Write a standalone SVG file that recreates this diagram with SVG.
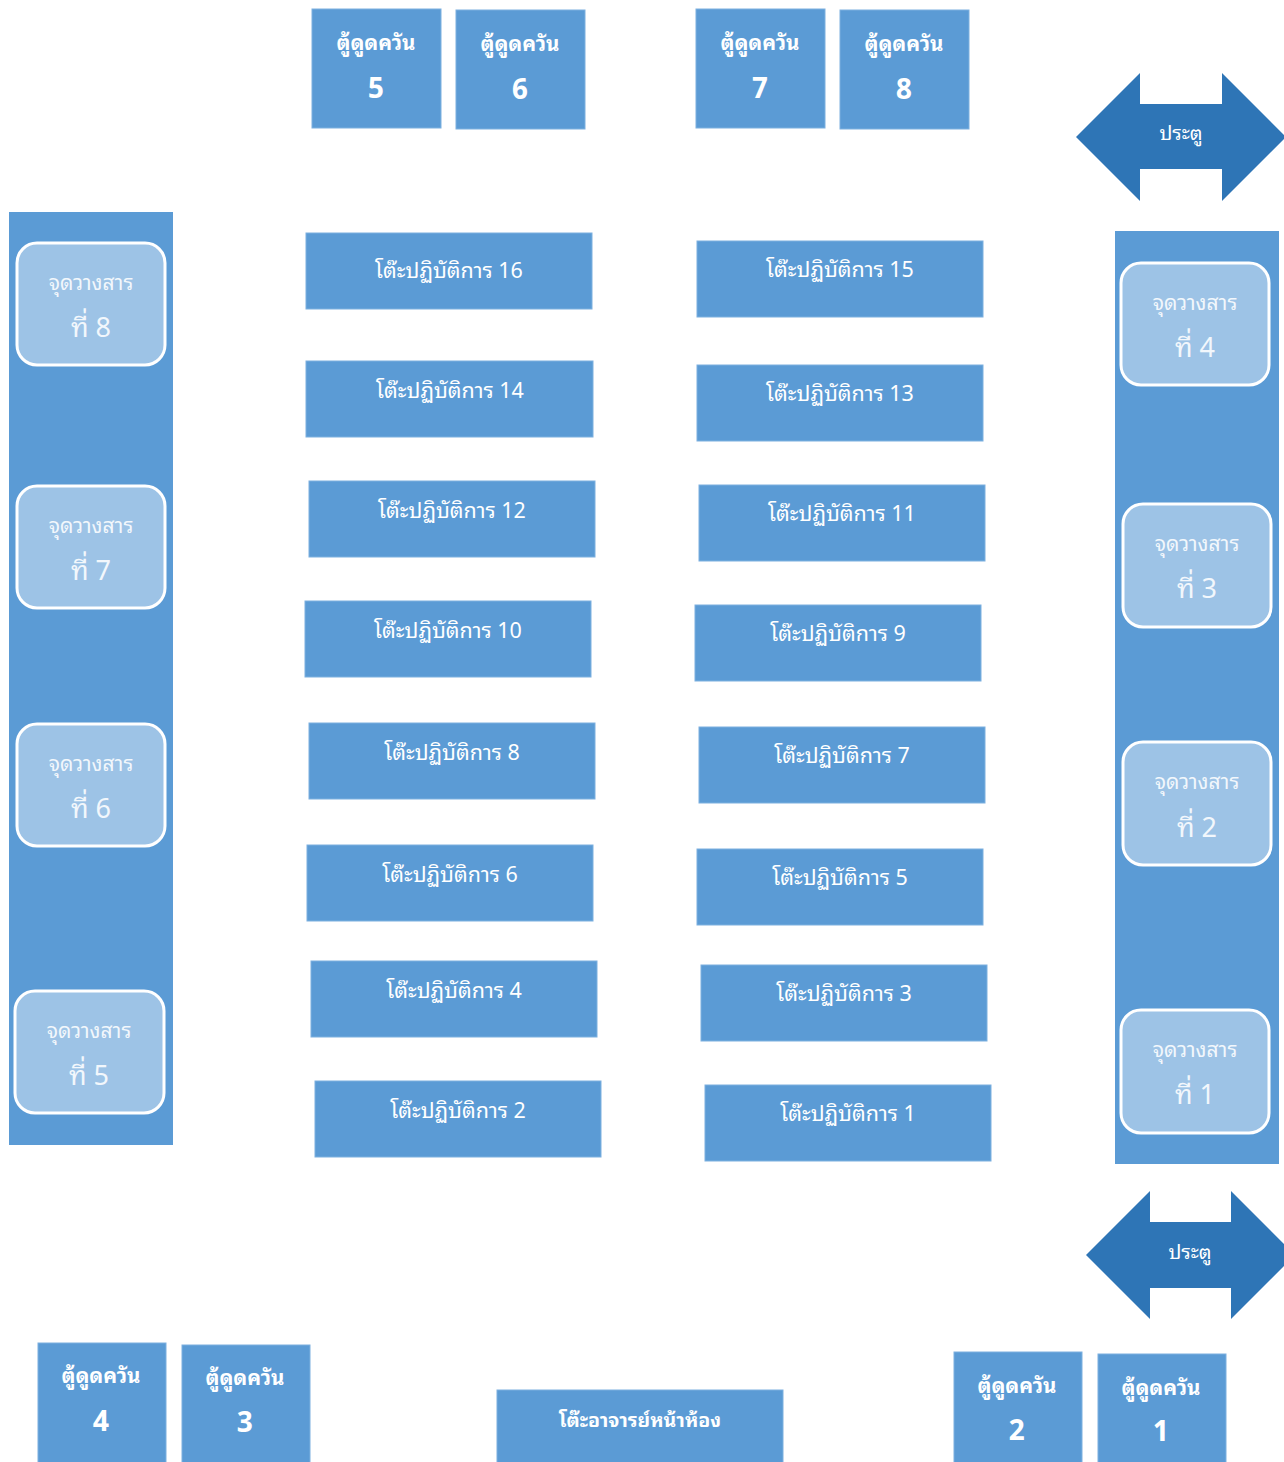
<svg xmlns="http://www.w3.org/2000/svg" width="1284" height="1462" viewBox="0 0 1284 1462">
<style>
.box{fill:#5B9BD5;stroke:#7DB0DF;stroke-width:1}
.col{fill:#5B9BD5}
.spot{fill:#9DC3E6;stroke:#FFFFFF;stroke-width:3}
.door{fill:#2E75B6}
text{font-family:"Noto Sans Thai Looped","Noto Serif Thai","Noto Sans Thai","Noto Sans","DejaVu Sans",sans-serif;fill:#FFFFFF;text-anchor:middle}
.cab{font-size:20.5px;font-weight:bold}
.cabn{font-size:28px;font-weight:bold}
.tbl{font-size:21.5px}
.sp{font-size:21px;fill:#F2F7FC}
.spn{font-size:27px;fill:#F2F7FC}
.dt{font-size:20px}
</style>
<rect width="1284" height="1462" fill="#FFFFFF"/>
<g id="cabinet5"><rect class="box" x="312" y="9" width="129" height="119"/><text class="cab" x="376" y="50">ตู้ดูดควัน</text><text class="cabn" x="376" y="98">5</text></g>
<g id="cabinet6"><rect class="box" x="456" y="10" width="129" height="119"/><text class="cab" x="520" y="51">ตู้ดูดควัน</text><text class="cabn" x="520" y="99">6</text></g>
<g id="cabinet7"><rect class="box" x="696" y="9" width="129" height="119"/><text class="cab" x="760" y="50">ตู้ดูดควัน</text><text class="cabn" x="760" y="98">7</text></g>
<g id="cabinet8"><rect class="box" x="840" y="10" width="129" height="119"/><text class="cab" x="904" y="51">ตู้ดูดควัน</text><text class="cabn" x="904" y="99">8</text></g>
<g id="door-top"><polygon class="door" points="1076,137 1140,73 1140,104 1222,104 1222,73 1286,137 1222,201 1222,169 1140,169 1140,201"/><text class="dt" x="1181" y="140">ประตู</text></g>
<g id="left-column"><rect class="col" x="9" y="212" width="164" height="933"/></g>
<g id="right-column"><rect class="col" x="1115" y="231" width="164" height="933"/></g>
<g id="spot8"><rect class="spot" x="17" y="243" width="148" height="122" rx="20"/><text class="sp" x="91" y="290">จุดวางสาร</text><text class="spn" x="91" y="337">ที่ 8</text></g>
<g id="spot7"><rect class="spot" x="17" y="486" width="148" height="122" rx="20"/><text class="sp" x="91" y="533">จุดวางสาร</text><text class="spn" x="91" y="580">ที่ 7</text></g>
<g id="spot6"><rect class="spot" x="17" y="724" width="148" height="122" rx="20"/><text class="sp" x="91" y="771">จุดวางสาร</text><text class="spn" x="91" y="818">ที่ 6</text></g>
<g id="spot5"><rect class="spot" x="15" y="991" width="149" height="122" rx="20"/><text class="sp" x="89" y="1038">จุดวางสาร</text><text class="spn" x="89" y="1085">ที่ 5</text></g>
<g id="spot4"><rect class="spot" x="1121" y="263" width="148" height="122" rx="20"/><text class="sp" x="1195" y="310">จุดวางสาร</text><text class="spn" x="1195" y="357">ที่ 4</text></g>
<g id="spot3"><rect class="spot" x="1123" y="504" width="148" height="123" rx="20"/><text class="sp" x="1197" y="551">จุดวางสาร</text><text class="spn" x="1197" y="598">ที่ 3</text></g>
<g id="spot2"><rect class="spot" x="1123" y="742" width="148" height="123" rx="20"/><text class="sp" x="1197" y="789">จุดวางสาร</text><text class="spn" x="1197" y="837">ที่ 2</text></g>
<g id="spot1"><rect class="spot" x="1121" y="1010" width="148" height="123" rx="20"/><text class="sp" x="1195" y="1057">จุดวางสาร</text><text class="spn" x="1195" y="1104">ที่ 1</text></g>
<g id="table16"><rect class="box" x="306" y="233" width="286" height="76"/><text class="tbl" x="449" y="278">โต๊ะปฏิบัติการ 16</text></g>
<g id="table14"><rect class="box" x="306" y="361" width="287" height="76"/><text class="tbl" x="450" y="398">โต๊ะปฏิบัติการ 14</text></g>
<g id="table12"><rect class="box" x="309" y="481" width="286" height="76"/><text class="tbl" x="452" y="518">โต๊ะปฏิบัติการ 12</text></g>
<g id="table10"><rect class="box" x="305" y="601" width="286" height="76"/><text class="tbl" x="448" y="638">โต๊ะปฏิบัติการ 10</text></g>
<g id="table8"><rect class="box" x="309" y="723" width="286" height="76"/><text class="tbl" x="452" y="760">โต๊ะปฏิบัติการ 8</text></g>
<g id="table6"><rect class="box" x="307" y="845" width="286" height="76"/><text class="tbl" x="450" y="882">โต๊ะปฏิบัติการ 6</text></g>
<g id="table4"><rect class="box" x="311" y="961" width="286" height="76"/><text class="tbl" x="454" y="998">โต๊ะปฏิบัติการ 4</text></g>
<g id="table2"><rect class="box" x="315" y="1081" width="286" height="76"/><text class="tbl" x="458" y="1118">โต๊ะปฏิบัติการ 2</text></g>
<g id="table15"><rect class="box" x="697" y="241" width="286" height="76"/><text class="tbl" x="840" y="277">โต๊ะปฏิบัติการ 15</text></g>
<g id="table13"><rect class="box" x="697" y="365" width="286" height="76"/><text class="tbl" x="840" y="401">โต๊ะปฏิบัติการ 13</text></g>
<g id="table11"><rect class="box" x="699" y="485" width="286" height="76"/><text class="tbl" x="842" y="521">โต๊ะปฏิบัติการ 11</text></g>
<g id="table9"><rect class="box" x="695" y="605" width="286" height="76"/><text class="tbl" x="838" y="641">โต๊ะปฏิบัติการ 9</text></g>
<g id="table7"><rect class="box" x="699" y="727" width="286" height="76"/><text class="tbl" x="842" y="763">โต๊ะปฏิบัติการ 7</text></g>
<g id="table5"><rect class="box" x="697" y="849" width="286" height="76"/><text class="tbl" x="840" y="885">โต๊ะปฏิบัติการ 5</text></g>
<g id="table3"><rect class="box" x="701" y="965" width="286" height="76"/><text class="tbl" x="844" y="1001">โต๊ะปฏิบัติการ 3</text></g>
<g id="table1"><rect class="box" x="705" y="1085" width="286" height="76"/><text class="tbl" x="848" y="1121">โต๊ะปฏิบัติการ 1</text></g>
<g id="door-bottom"><polygon class="door" points="1086,1255 1150,1191 1150,1222 1231,1222 1231,1191 1295,1255 1231,1319 1231,1288 1150,1288 1150,1319"/><text class="dt" x="1190" y="1259">ประตู</text></g>
<g id="cabinet4"><rect class="box" x="38" y="1343" width="128" height="125"/><text class="cab" x="101" y="1383">ตู้ดูดควัน</text><text class="cabn" x="101" y="1431">4</text></g>
<g id="cabinet3"><rect class="box" x="182" y="1345" width="128" height="125"/><text class="cab" x="245" y="1385">ตู้ดูดควัน</text><text class="cabn" x="245" y="1432">3</text></g>
<g id="teacher-desk"><rect class="box" x="497" y="1390" width="286" height="80"/><text class="cab" x="640" y="1427" style="font-size:19.5px">โต๊ะอาจารย์หน้าห้อง</text></g>
<g id="cabinet2"><rect class="box" x="954" y="1352" width="128" height="118"/><text class="cab" x="1017" y="1393">ตู้ดูดควัน</text><text class="cabn" x="1017" y="1440">2</text></g>
<g id="cabinet1"><rect class="box" x="1098" y="1354" width="128" height="116"/><text class="cab" x="1161" y="1395">ตู้ดูดควัน</text><text class="cabn" x="1161" y="1441">1</text></g>
<g id="connectors"></g>
</svg>
